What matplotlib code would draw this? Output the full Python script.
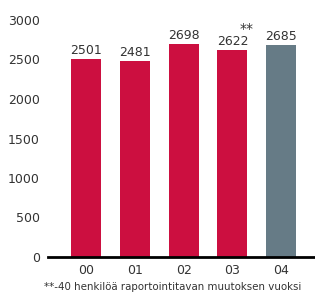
import matplotlib
matplotlib.use('Agg')
import matplotlib.pyplot as plt

years = ['00', '01', '02', '03', '04']
staff = [2501, 2481, 2698, 2622, 2685]
colors = ['#CC0F40', '#CC0F40', '#CC0F40', '#CC0F40', '#667B86']
note = '**-40 henkilöä raportointitavan muutoksen vuoksi'

fig = plt.figure(figsize=(3.15, 2.96), dpi=100)
ax = fig.add_axes([48 / 315, 39 / 296, 1 - 48 / 315, (257 - 20) / 296])

x = range(len(years))
ax.bar(x, staff, width=30 / 49, color=colors)
for i, v in zip(x, staff):
    ax.text(i, v + 25, str(v), ha='center', va='bottom', fontsize=9, color='#333333')
ax.text(3.28, 2622 + 180, '**', ha='center', va='bottom', fontsize=10, color='#333333')

ax.set_xlim(-0.776, 4.69)
ax.set_ylim(0, 3000)
ax.set_yticks([0, 500, 1000, 1500, 2000, 2500, 3000])
ax.set_xticks(list(x))
ax.set_xticklabels(years)
for s in ['top', 'right', 'left']:
    ax.spines[s].set_visible(False)
ax.spines['bottom'].set_linewidth(2)
ax.tick_params(axis='both', length=0, labelsize=9, colors='#333333')
ax.tick_params(axis='y', pad=6)
ax.tick_params(axis='x', pad=5)

fig.text(44 / 315, 1 - 287 / 296, note, ha='left', va='center', fontsize=7.4, color='#333333')

fig.savefig('out.png', dpi=100)
